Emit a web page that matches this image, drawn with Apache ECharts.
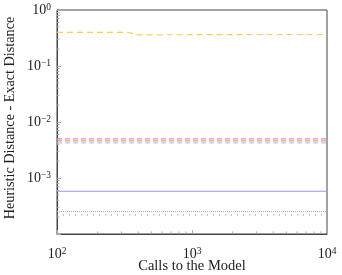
<!DOCTYPE html>
<html><head><meta charset="utf-8">
<script src="https://cdn.jsdelivr.net/npm/echarts@6/dist/echarts.min.js"></script>
<style>html,body{margin:0;padding:0;background:#fff}#c{width:342px;height:275px}</style>
</head><body><div id="c"></div>
<script>
const xYellow = [100, 330, 395, 1000, 3000, 10000];
const yYellow = [0.40, 0.40, 0.36, 0.362, 0.365, 0.365];
const xFlat = [100, 10000];
const yPink = [0.0050, 0.0050];
const yOrange = [0.0046, 0.0046];
const yBlue = [0.00423, 0.00423];
const yPurple = [0.00058, 0.00058];
const yGrayDense = [0.000251, 0.000251];
const yGraySparse = [0.000219, 0.000219];
const xMinorTicks = [200,300,400,500,600,700,800,900,2000,3000,4000,5000,6000,7000,8000,9000];
const yMinorTicks = [];
[0.0001,0.001,0.01,0.1].forEach(d=>{for(let k=2;k<=9;k++) yMinorTicks.push(d*k);});

const font = 'Liberation Serif';
function pow10(v){
  const e = Math.round(Math.log10(v));
  return '10{s|' + (e<0 ? '\u2212'+(-e) : e) + '}';
}
const zip = (xs, ys) => xs.map((x,i)=>[x, ys[i]]);
const chart = echarts.init(document.getElementById('c'));
const line = (data, color, type, width) => ({
  type:'line', data, symbol:'none', silent:true,
  lineStyle:{color, width: width||1, type}
});
const rich = {s:{fontSize:9.5, verticalAlign:'top', padding:[0,0,6,0], fontFamily:font, color:'#222'}};
chart.setOption({
  animation:false,
  grid:{left:57, right:15, top:10, bottom:41, show:true, borderColor:'#444', borderWidth:1,
    containLabel:false, outerBoundsMode:'none'},
  xAxis:{type:'log', logBase:10, min:100, max:10000,
    name:'Calls to the Model', nameLocation:'middle', nameGap:25, nameMoveOverlap:false,
    nameTextStyle:{fontFamily:font, fontSize:14.5, color:'#222'},
    axisLine:{lineStyle:{color:'#444'}},
    axisTick:{inside:true, length:4, lineStyle:{color:'#aaa'}},
    splitLine:{show:false},
    axisLabel:{fontFamily:font, fontSize:14, color:'#222', margin:12,
      formatter:v=>pow10(v), rich}
  },
  yAxis:{type:'log', logBase:10, min:0.0001, max:1,
    name:'Heuristic Distance - Exact Distance', nameLocation:'middle', nameGap:40, nameMoveOverlap:false,
    nameTextStyle:{fontFamily:font, fontSize:14.2, color:'#222', padding:[0,0,0,8]},
    axisLine:{lineStyle:{color:'#444'}},
    axisTick:{inside:true, length:4, lineStyle:{color:'#aaa'}},
    splitLine:{show:false},
    axisLabel:{fontFamily:font, fontSize:14, color:'#222', margin:6,
      formatter:v=> (Math.round(Math.log10(v))===-4 ? '' : pow10(v)), rich}
  },
  series:[
    line(zip(xYellow,yYellow), '#ffcc55', [6,4], 1.2),
    line(zip(xFlat,yPink), '#ee88bb', [5,3], 1.2),
    line(zip(xFlat,yOrange), '#ff9955', [5,3], 1.2),
    line(zip(xFlat,yBlue), '#aaccff', [5,3], 1.2),
    line(zip(xFlat,yPurple), '#9999ee', 'solid', 1),
    line(zip(xFlat,yGrayDense), '#aaaaaa', [1,1], 1),
    line(zip(xFlat,yGraySparse), '#888888', [1,5], 1),
    {type:'custom', silent:true, clip:false, data:xMinorTicks.map(v=>[v]),
      renderItem:(p,api)=>{const pt=api.coord([api.value(0),0.0001]);
        return {type:'line', shape:{x1:pt[0],y1:pt[1],x2:pt[0],y2:pt[1]-2.5}, style:{stroke:'#aaa', lineWidth:1}};},
      encode:{x:0}},
    {type:'custom', silent:true, clip:false, data:yMinorTicks.map(v=>[100,v]),
      renderItem:(p,api)=>{const pt=api.coord([100,api.value(1)]);
        return {type:'line', shape:{x1:pt[0],y1:pt[1],x2:pt[0]+2.5,y2:pt[1]}, style:{stroke:'#aaa', lineWidth:1}};},
      encode:{x:0,y:1}}
  ]
});
</script></body></html>
